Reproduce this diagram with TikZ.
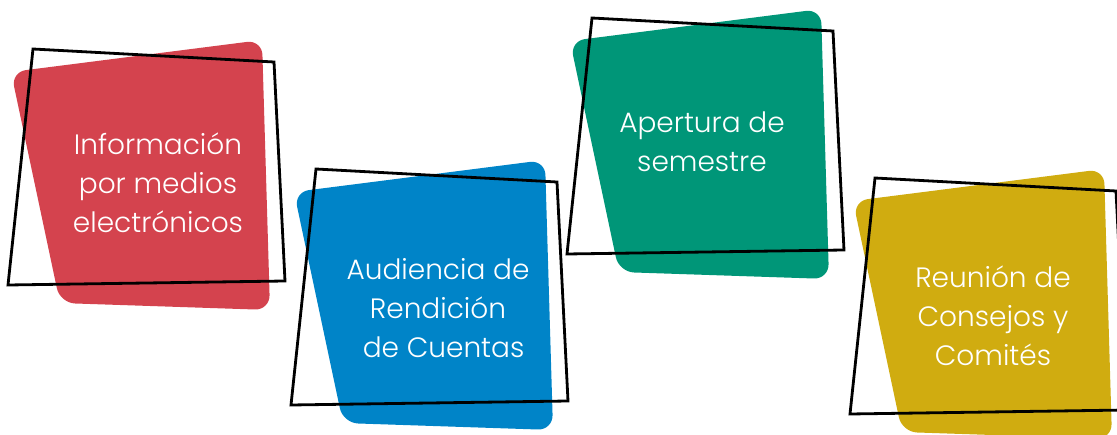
\documentclass[tikz,border=0pt]{standalone}
\usepackage{fontspec}
\setmainfont{Poppins}[UprightFont=* Light]
\definecolor{cred}{RGB}{212,67,78}
\definecolor{cblue}{RGB}{0,132,200}
\definecolor{cgreen}{RGB}{0,150,120}
\definecolor{cyellow}{RGB}{208,172,16}
\tikzset{
  cardfill/.style={fill=#1, draw=none, rounded corners=15pt},
  cardframe/.style={draw=black, line width=2.8pt, line join=miter},
  cardtext/.style={text=white, align=center, font=\fontsize{28}{39}\selectfont, inner sep=0pt},
  pics/card/.style={code={
    \fill[cardfill=#1] (11,72) -- (262,40) -- (270,310) -- (60,303) -- cycle;
    \draw[cardframe] (33,49) -- (274,62) -- (285,281) -- (8,285) -- cycle;
  }}
}
\begin{document}
\begin{tikzpicture}[x=1pt,y=-1pt]
\useasboundingbox (0,0) rectangle (1117,435);
\pic at (0,0) {card=cred};
\pic at (283,120) {card=cblue};
\pic at (559,-31) {card=cgreen};
\pic at (842,129) {card=cyellow};
\node[cardtext] (t1) at (158,183) {Información\\por medios\\electrónicos};
\node[cardtext] (t2) at (438,308) {Audiencia de\\Rendición\\\hspace{0.4em}de Cuentas};
\node[cardtext] (t3) at (702,142) {Apertura de\\semestre};
\node[cardtext] (t4) at (993,316) {Reunión de\\Consejos y\hspace{0.4em}\\Comités};
\end{tikzpicture}
\end{document}
